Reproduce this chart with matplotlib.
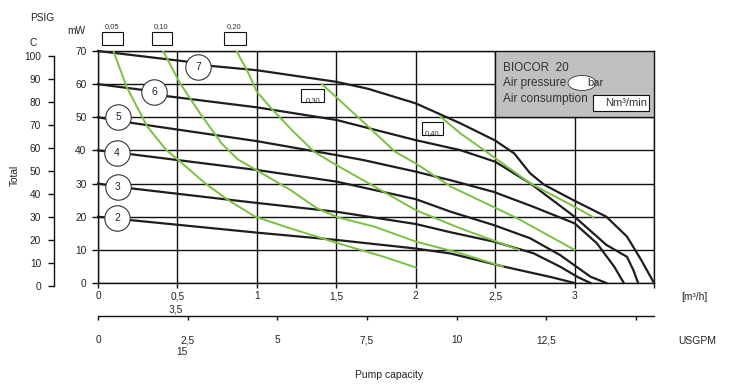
import matplotlib
matplotlib.use('Agg')
import matplotlib.pyplot as plt
import matplotlib.transforms as mtrans
from matplotlib.patches import Rectangle, Ellipse

plt.rcParams['font.family'] = ['Liberation Sans', 'DejaVu Sans']

# ---------------- data ----------------
# pressure curves (bar): flow [m3/h] vs head [mW]
flow_p2 = [0, 0.2, 1.0, 1.5, 2.0, 2.22, 2.55, 2.85, 3.0]
head_p2 = [20, 19.0, 15.2, 13.0, 10.4, 8.9, 5.0, 1.8, 0]
flow_p3 = [0, 0.2, 0.9, 1.5, 2.0, 2.22, 2.49, 2.74, 2.91, 3.02, 3.1]
head_p3 = [30, 28.6, 24.7, 21.5, 17.8, 15.3, 12.5, 9.0, 4.9, 1.8, 0]
flow_p4 = [0, 0.2, 1.0, 1.5, 2.0, 2.22, 2.49, 2.72, 2.91, 3.1, 3.2]
head_p4 = [40, 38.9, 34.1, 30.6, 25.3, 21.5, 17.5, 13.5, 8.4, 1.9, 0]
flow_p5 = [0, 0.2, 1.0, 1.5, 1.67, 2.0, 2.22, 2.49, 2.74, 3.0, 3.14, 3.25, 3.31]
head_p5 = [50, 48.4, 42.8, 38.6, 37.1, 33.6, 31.0, 27.5, 23.0, 18.0, 12.0, 4.9, 0]
flow_p6 = [0, 0.29, 0.43, 1.0, 1.5, 2.0, 2.28, 2.5, 2.72, 3.0, 3.2, 3.33, 3.37, 3.40]
head_p6 = [60, 58.2, 56.4, 53.0, 49.2, 43.1, 40.1, 36.6, 30.1, 20.0, 11.5, 7.9, 3.9, 0]
flow_p7 = [0, 0.56, 0.71, 1.0, 1.5, 1.7, 2.0, 2.28, 2.5, 2.62, 2.72, 2.81, 3.0, 3.2, 3.33, 3.42, 3.5]
head_p7 = [70, 66.8, 65.5, 64.2, 60.7, 58.6, 54.2, 48.2, 43.0, 39.1, 33.1, 29.6, 24.8, 20.0, 14.0, 6.9, 0]
pressure_labels = ['2', '3', '4', '5', '6', '7']
label_flow = [0.12, 0.126, 0.12, 0.128, 0.355, 0.63]
label_head = [19.5, 29.1, 39.1, 50.0, 57.5, 65.2]

# air consumption curves (Nm3/min)
air_005_q = [0.097, 0.18, 0.31, 0.43, 0.506, 0.674, 0.82, 0.99, 1.21, 1.51, 1.8, 2.0]
air_005_h = [70, 59.2, 47.2, 40.1, 37.1, 30.1, 25.0, 20.0, 16.5, 12.0, 7.9, 4.7]
air_010_q = [0.41, 0.516, 0.642, 0.78, 0.88, 1.0, 1.21, 1.38, 1.51, 1.74, 2.0, 2.28, 2.55]
air_010_h = [70, 60.3, 51.2, 42.0, 37.3, 34.0, 28.1, 22.5, 19.8, 17.0, 12.5, 9.0, 4.9]
air_020_q = [0.874, 0.894, 0.937, 1.0, 1.1, 1.23, 1.36, 1.5, 1.74, 2.0, 2.28, 2.65]
air_020_h = [70, 68.0, 64.3, 57.7, 52.2, 45.7, 39.6, 35.6, 29.1, 22.0, 16.5, 10.0]
air_030_q = [1.41, 1.69, 1.87, 2.0, 2.22, 2.64, 3.0]
air_030_h = [60, 47.7, 39.6, 36.1, 29.1, 19.5, 10.0]
air_040_q = [2.155, 2.28, 2.43, 2.72, 3.0, 3.12]
air_040_h = [50.2, 45.2, 40.1, 30.1, 23.0, 19.8]

x_ticks = [0, 0.5, 1, 1.5, 2, 2.5, 3, 3.5]
x_ticklabels = ['0', '0,5', '1', '1,5', '2', '2,5', '3', '']
y_ticks = [0, 10, 20, 30, 40, 50, 60, 70]
gpm_ticks = [0, 2.5, 5, 7.5, 10, 12.5, 15]
gpm_ticklabels = ['0', '2,5', '5', '7,5', '10', '12,5', '']
psig_ticks = [0, 10, 20, 30, 40, 50, 60, 70, 80, 90, 100]

# ---------------- figure ----------------
W, H = 750, 388
fig = plt.figure(figsize=(7.5, 3.88), dpi=100)
L, R, T, B = 98, 654, 51, 283
ax = fig.add_axes([L / W, 1 - B / H, (R - L) / W, (B - T) / H])
ax.set_xlim(0, 3.5)
ax.set_ylim(0, 70)

INK = '#111111'
GREEN = '#7ac143'
TXT = '#222222'
FS = 7.3

ax.set_xticks(x_ticks)
ax.set_xticklabels(x_ticklabels)
ax.set_yticks(y_ticks)
ax.set_yticklabels([str(v) for v in y_ticks])
ax.grid(True, color=INK, lw=1.0)
ax.set_axisbelow(True)
for s in ax.spines.values():
    s.set_color(INK)
    s.set_linewidth(1.0)
ax.tick_params(axis='x', direction='out', length=3.6, width=1.0, color=INK,
               labelsize=FS, pad=2.4, labelcolor=TXT)
ax.tick_params(axis='y', direction='out', length=4.3, width=1.0, color=INK,
               labelsize=FS, pad=4.0, labelcolor=TXT)

# secondary USGPM axis
sec = ax.secondary_xaxis(-(316 - B) / (B - T),
                         functions=(lambda q: q * 4.43, lambda g: g / 4.43))
sec.set_xticks(gpm_ticks)
sec.set_xticklabels(gpm_ticklabels)
sec.tick_params(direction='out', length=3, width=1.0, color=INK,
                labelsize=FS, pad=11.0, labelcolor=TXT)
sec.spines['bottom'].set_linewidth(1.0)
sec.spines['bottom'].set_color(INK)

# PSIG axis
pax = fig.add_axes([54 / W, 1 - 286 / H, 0.0001, (286 - 56) / H])
pax.set_ylim(0, 100)
pax.set_yticks(psig_ticks)
pax.set_yticklabels([str(v) for v in psig_ticks])
pax.set_xticks([])
pax.patch.set_visible(False)
for k in ['right', 'top', 'bottom']:
    pax.spines[k].set_visible(False)
pax.spines['left'].set_linewidth(1.0)
pax.spines['left'].set_color(INK)
pax.tick_params(axis='y', direction='out', length=4.3, width=1.0, color=INK,
                labelsize=FS, pad=5.0, labelcolor=TXT)

# curves
for q, h in [(flow_p2, head_p2), (flow_p3, head_p3), (flow_p4, head_p4),
             (flow_p5, head_p5), (flow_p6, head_p6), (flow_p7, head_p7)]:
    ax.plot(q, h, color='#1e1e1e', lw=1.6, zorder=3, clip_on=False,
            solid_joinstyle='round')
for q, h in [(air_005_q, air_005_h), (air_010_q, air_010_h), (air_020_q, air_020_h),
             (air_030_q, air_030_h), (air_040_q, air_040_h)]:
    ax.plot(q, h, color=GREEN, lw=1.4, zorder=4, solid_joinstyle='round')

# circles with bar numbers
ax.plot(label_flow, label_head, ls='none', marker='o', ms=18.3, mfc='white',
        mec='#333333', mew=0.8, zorder=6)
for lf, lh, lt in zip(label_flow, label_head, pressure_labels):
    ax.text(lf, lh, lt, ha='center', va='center', fontsize=7.5, color='#1f1f3a', zorder=7)

# legend box
ax.add_patch(Rectangle((2.5, 50), 1.0, 20, facecolor='#c0c0c0', edgecolor=INK,
                       lw=1.0, zorder=5))
ax.text(2.548, 64.9, 'BIOCOR  20', fontsize=8.5, color='#333333', va='center', zorder=6)
ax.text(2.548, 60.4, 'Air pressure', fontsize=8.5, color='#333333', va='center', zorder=6)
ax.text(2.548, 55.5, 'Air consumption', fontsize=8.5, color='#333333', va='center', zorder=6)
ax.add_patch(Ellipse((3.047, 60.35), 0.176, 4.53, facecolor='white',
                     edgecolor='#333333', lw=0.6, zorder=6))
ax.text(3.13, 60.2, 'bar', fontsize=8, color='#333333', ha='center', va='center', zorder=7)
ax.add_patch(Rectangle((3.114, 52.0), 0.356, 4.7, facecolor='white',
                       edgecolor=INK, lw=0.8, zorder=6))
ax.text(3.323, 54.2, 'Nm³/min', fontsize=8, color='#333333', ha='center', va='center', zorder=7)

# air consumption boxes
box_specs = [('0,05', 0.023, 0.159, 71.8, 75.65, 0.09, 77.5),
             ('0,10', 0.338, 0.468, 71.8, 75.65, 0.397, 77.5),
             ('0,20', 0.794, 0.931, 71.8, 75.65, 0.857, 77.5),
             ('0,30', 1.281, 1.422, 54.5, 58.4, 1.352, 54.9),
             ('0,40', 2.038, 2.170, 44.75, 48.5, 2.103, 45.2)]
for txt, x0, x1, y0, y1, tx, ty in box_specs:
    ax.add_patch(Rectangle((x0, y0), x1 - x0, y1 - y0, facecolor='white',
                           edgecolor=INK, lw=0.8, zorder=6, clip_on=False))
    ax.text(tx, ty, txt, fontsize=5.5, color='#333333', ha='center', va='center',
            zorder=7, clip_on=False)

# extra labels
bt = mtrans.blended_transform_factory(ax.transData, fig.transFigure)
ax.text(0.49, 1 - 309 / H, '3,5', transform=bt, fontsize=FS, color=TXT,
        ha='center', va='center')
ax.text(0.527, 1 - 352 / H, '15', transform=bt, fontsize=FS, color=TXT,
        ha='center', va='center')

fig.text(42 / W, 1 - 18 / H, 'PSIG', fontsize=FS, color=TXT, ha='center', va='center')
fig.text(33.3 / W, 1 - 42.7 / H, 'C', fontsize=FS, color=TXT, ha='center', va='center')
fig.text(76 / W, 1 - 31.5 / H, 'mW', fontsize=FS, color=TXT, ha='center', va='center')
fig.text(15 / W, 1 - 175 / H, 'Total', fontsize=FS, color=TXT, rotation=90,
         ha='center', va='center')
fig.text(694 / W, 1 - 296.7 / H, '[m³/h]', fontsize=FS, color=TXT, ha='center', va='center')
fig.text(697.7 / W, 1 - 341 / H, 'USGPM', fontsize=7.5, color=TXT, ha='center', va='center')
fig.text(389 / W, 1 - 375 / H, 'Pump capacity', fontsize=7.5, color=TXT, ha='center', va='center')

fig.savefig('out.png', dpi=100)
